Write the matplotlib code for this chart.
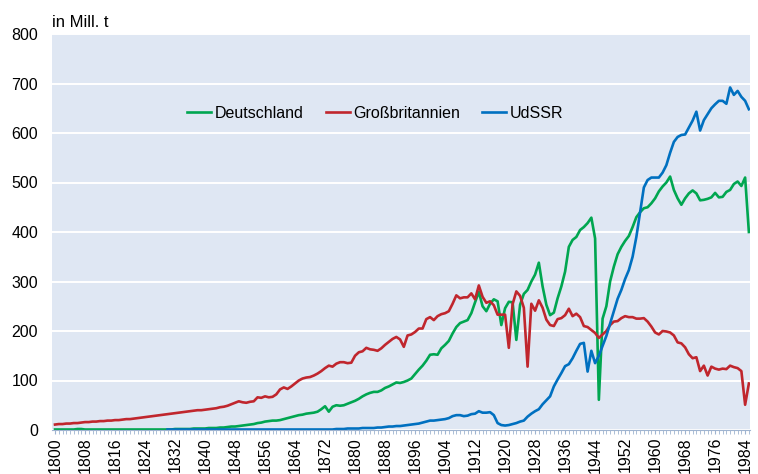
import numpy as np
import matplotlib
matplotlib.use('Agg')
import matplotlib.pyplot as plt

plt.rcParams['font.family'] = ['Liberation Sans', 'DejaVu Sans']

years = np.arange(1800, 1986)
udssr_years = np.arange(1830, 1986)

deutschland = [
    1, 1, 1, 1, 1, 1, 2, 2, 1, 1,
    1, 1, 1, 1, 1, 1, 1, 1, 1, 1,
    1, 1, 1, 1, 1, 1, 1, 1, 1, 1,
    1, 1, 2, 2, 2, 2, 2, 3, 3, 3,
    3, 4, 4, 4, 5, 5, 6, 7, 7, 8,
    9, 10, 11, 12, 14, 15, 17, 18, 19, 19,
    20, 22, 24, 26, 28, 30, 31, 33, 34, 35,
    37, 42, 48, 37, 47, 50, 49, 50, 53, 56,
    59, 63, 68, 72, 75, 77, 77, 80, 85, 88,
    92, 96, 95, 97, 100, 104, 113, 122, 130, 140,
    152, 153, 152, 165, 172, 180, 195, 208, 216, 219,
    222, 236, 258, 279, 250, 240, 255, 264, 260, 212,
    246, 259, 258, 182, 253, 275, 283, 300, 314, 338,
    290, 253, 232, 237, 266, 290, 320, 370, 384, 390,
    404, 410, 418, 429, 387, 61, 225, 250, 300, 330,
    355, 370, 382, 392, 410, 430, 440, 448, 450, 458,
    468, 482, 492, 500, 512, 485, 468, 455, 468, 478,
    484, 478, 464, 465, 467, 470, 479, 470, 471, 481,
    485, 497, 502, 493, 510, 400,
]

grossbritannien = [
    11, 12, 12, 13, 13, 14, 14, 15, 16, 16,
    17, 17, 18, 18, 19, 19, 20, 20, 21, 22,
    22, 23, 24, 25, 26, 27, 28, 29, 30, 31,
    32, 33, 34, 35, 36, 37, 38, 39, 40, 40,
    41, 42, 43, 44, 46, 47, 49, 52, 55, 58,
    56, 55, 57, 58, 66, 65, 68, 66, 67, 72,
    82, 86, 83, 88, 94, 100, 104, 106, 107, 110,
    114, 119, 125, 130, 128, 134, 137, 137, 135, 136,
    150, 157, 159, 166, 163, 162, 160, 165, 172, 178,
    184, 188, 183, 168, 191, 193, 198, 205, 205, 224,
    228, 222, 230, 234, 236, 240, 255, 272, 266, 268,
    268, 276, 264, 292, 269, 257, 260, 252, 233, 233,
    233, 166, 254, 280, 271, 247, 128, 255, 241, 262,
    247, 223, 212, 210, 224, 226, 232, 245, 230, 235,
    228, 210, 208, 202, 196, 186, 193, 200, 212, 219,
    220, 226, 230, 228, 228, 225, 225, 226, 219, 209,
    197, 193, 200, 199, 197, 191, 177, 175, 167, 153,
    145, 147, 119, 130, 110, 128, 124, 122, 124, 123,
    130, 127, 125, 119, 51, 94,
]

udssr = [
    1, 1, 1, 1, 1, 1, 1, 1, 1, 1,
    1, 1, 1, 1, 1, 1, 1, 1, 1, 1,
    1, 1, 1, 1, 1, 1, 1, 1, 1, 1,
    1, 1, 1, 1, 1, 1, 1, 1, 1, 1,
    1, 1, 1, 1, 1, 2, 2, 2, 3, 3,
    3, 3, 4, 4, 4, 4, 5, 5, 6, 7,
    7, 8, 8, 9, 10, 11, 12, 13, 15, 17,
    19, 19, 20, 21, 22, 24, 28, 30, 30, 28,
    29, 32, 33, 38, 35, 35, 36, 30, 14, 10,
    9, 10, 12, 14, 17, 19, 27, 33, 38, 42,
    52, 60, 68, 88, 102, 115, 129, 133, 145, 160,
    174, 176, 118, 160, 135, 150, 170, 190, 215, 240,
    265, 283, 305, 323, 350, 390, 440, 490, 505, 510,
    510, 510, 520, 535, 560, 582, 592, 596, 597, 611,
    625, 643, 605, 626, 638, 650, 658, 665, 665, 659,
    692, 677, 685, 673, 665, 648,
]

fig = plt.figure(figsize=(7.58, 4.74), dpi=100)
ax = fig.add_axes([52 / 758, 44 / 474, 698 / 758, 396 / 474])
ax.set_facecolor('#dfe7f3')

ax.plot(years, deutschland, color='#00a650', lw=1.9, label='Deutschland')
ax.plot(years, grossbritannien, color='#c0262d', lw=1.9, label='Großbritannien')
ax.plot(udssr_years, udssr, color='#0070c0', lw=1.9, label='UdSSR')

ax.set_ylim(0, 800)
ax.set_yticks(np.arange(0, 801, 100))
ax.set_xlim(1799.2, 1985.3)
ax.set_xticks(np.arange(1800, 1986, 8))
ax.set_xticks(years, minor=True)
ax.tick_params(axis='x', which='both', length=3, color='#9fb4d0')
ax.tick_params(axis='x', which='major', labelrotation=90, labelsize=11.5, pad=2)
ax.tick_params(axis='y', length=0, labelsize=11.5, pad=10)
ax.grid(axis='y', color='white', lw=1.4)
ax.set_axisbelow(True)
for s in ['top', 'right', 'left']:
    ax.spines[s].set_visible(False)
ax.spines['bottom'].set_color('#9fb4d0')

ax.legend(loc='center', bbox_to_anchor=(0.463, 0.80), ncol=3, frameon=False,
          fontsize=11.5, handlelength=1.5, handletextpad=0.2, columnspacing=1.4)

fig.text(52 / 758, 1 - 27 / 474, 'in Mill. t', fontsize=12, va='baseline')

fig.savefig('out.png', dpi=100)
